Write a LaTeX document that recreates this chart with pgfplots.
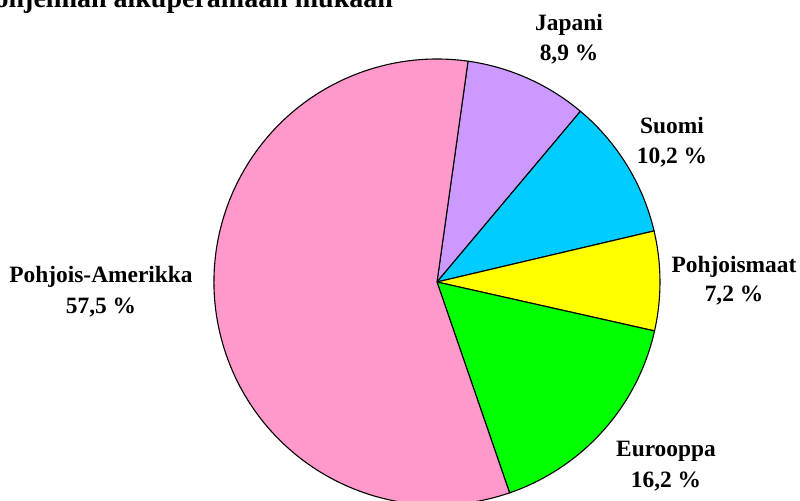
\documentclass[border=0pt]{standalone}
\usepackage{fontspec}
\setmainfont{Liberation Serif}
\usepackage{pgfplots}
\usepackage{pgfplotstable}
\pgfplotsset{compat=1.18}

\definecolor{cJapani}{HTML}{CC99FF}
\definecolor{cSuomi}{HTML}{00CCFF}
\definecolor{cPohjoismaat}{HTML}{FFFF00}
\definecolor{cEurooppa}{HTML}{00FF00}
\definecolor{cAmerikka}{HTML}{FF99CC}

% shares in percent, clockwise from the top
\pgfplotstableread{
name share col
Japani 8.9 cJapani
Suomi 10.2 cSuomi
Pohjoismaat 7.2 cPohjoismaat
Eurooppa 16.2 cEurooppa
Pohjois-Amerikka 57.5 cAmerikka
}\shares

\newcommand{\lbl}{\fontsize{11.7}{15}\selectfont\bfseries}

\begin{document}
\begin{tikzpicture}
\useasboundingbox (0,0) rectangle (400pt,250pt);
\clip (0,0) rectangle (400pt,250pt);

\begin{axis}[
  at={(0,0)}, anchor=south west,
  x=111.5pt, y=111.5pt,
  xmin=-1.9596, xmax=1.6278,
  ymin=-0.9776, ymax=1.2646,
  hide axis, clip=false,
]
\pgfplotsextra{
  \pgfplotstablegetrowsof{\shares}
  \pgfmathtruncatemacro\nrows{\pgfplotsretval-1}
  \xdef\angstart{82}
  \foreach \i in {0,...,\nrows}{
    \pgfplotstablegetelem{\i}{share}\of\shares
    \pgfmathsetmacro\angend{\angstart-3.6*\pgfplotsretval}
    \pgfplotstablegetelem{\i}{col}\of\shares
    \edef\slicecol{\pgfplotsretval}
    \fill[fill=\slicecol, draw=black, line width=0.55pt, line join=round]
      (axis cs:0,0) -- ++(\angstart:111.5pt)
      arc[start angle=\angstart, end angle=\angend, radius=111.5pt] -- cycle;
    \xdef\angstart{\angend}
  }
}
\end{axis}

% title, cut off at the top edge as in the original
\node[anchor=base east, font=\fontsize{14}{17}\selectfont\bfseries]
  at (200pt,246.3pt) {ohjelman alkuperämaan mukaan};

\node[anchor=base, font=\lbl] at (284.5pt,235pt) {Japani};
\node[anchor=base, font=\lbl] at (284.5pt,220pt) {8,9 \%};
\node[anchor=base, font=\lbl] at (336pt,183.5pt) {Suomi};
\node[anchor=base, font=\lbl] at (336pt,168.5pt) {10,2 \%};
\node[anchor=base, font=\lbl] at (367pt,114pt) {Pohjoismaat};
\node[anchor=base, font=\lbl] at (367pt,99.5pt) {7,2 \%};
\node[anchor=base, font=\lbl] at (333pt,22pt) {Eurooppa};
\node[anchor=base, font=\lbl] at (333pt,6.5pt) {16,2 \%};
\node[anchor=base, font=\lbl] at (50.5pt,109pt) {Pohjois-Amerikka};
\node[anchor=base, font=\lbl] at (50.5pt,93.5pt) {57,5 \%};
\end{tikzpicture}
\end{document}
